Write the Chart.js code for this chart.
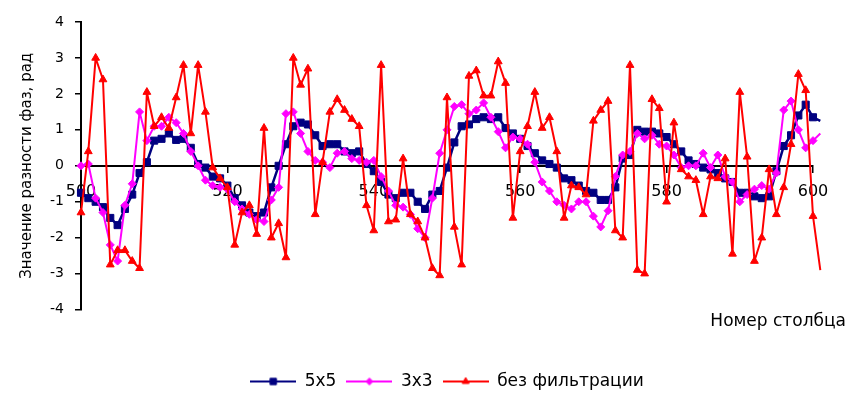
<!DOCTYPE html>
<html><head><meta charset="utf-8">
<script src="https://cdn.jsdelivr.net/npm/chart.js@4.4.1/dist/chart.umd.min.js"></script>
<style>html,body{margin:0;padding:0;background:#fff;}</style>
</head><body>
<canvas id="c" width="846" height="400"></canvas>
<script>
const columns = [500,501,502,503,504,505,506,507,508,509,510,511,512,513,514,515,516,517,518,519,
520,521,522,523,524,525,526,527,528,529,530,531,532,533,534,535,536,537,538,539,
540,541,542,543,544,545,546,547,548,549,550,551,552,553,554,555,556,557,558,559,
560,561,562,563,564,565,566,567,568,569,570,571,572,573,574,575,576,577,578,579,
580,581,582,583,584,585,586,587,588,589,590,591,592,593,594,595,596,597,598,599,600,601];

const filter5x5 = [-0.75,-0.9,-1.0,-1.15,-1.45,-1.65,-1.2,-0.8,-0.2,0.1,
0.7,0.75,0.9,0.72,0.75,0.5,0.05,-0.05,-0.3,-0.35,
-0.55,-0.9,-1.1,-1.3,-1.4,-1.3,-0.6,0.0,0.6,1.1,
1.2,1.15,0.85,0.55,0.6,0.6,0.4,0.35,0.4,0.05,
-0.15,-0.45,-0.8,-0.9,-0.75,-0.75,-1.0,-1.2,-0.8,-0.7,
-0.05,0.65,1.1,1.15,1.3,1.35,1.3,1.35,1.05,0.9,
0.75,0.55,0.35,0.15,0.05,-0.05,-0.35,-0.4,-0.55,-0.7,
-0.75,-0.95,-0.95,-0.6,0.2,0.3,1.0,0.95,0.95,0.9,
0.8,0.6,0.4,0.15,0.05,-0.05,-0.1,-0.2,-0.35,-0.45,
-0.75,-0.75,-0.85,-0.9,-0.85,-0.15,0.55,0.85,1.4,1.7,
1.35,1.25];

const filter3x3 = [0.0,0.05,-0.9,-1.3,-2.2,-2.65,-1.1,-0.5,1.5,0.7,
1.1,1.1,1.35,1.2,0.9,0.4,0.0,-0.4,-0.55,-0.6,
-0.65,-1.0,-1.2,-1.35,-1.5,-1.55,-0.95,-0.6,1.45,1.5,
0.9,0.4,0.15,0.1,-0.05,0.35,0.4,0.2,0.15,0.1,
0.15,-0.3,-0.7,-1.1,-1.15,-1.35,-1.75,-2.0,-0.9,0.35,
1.0,1.65,1.7,1.45,1.55,1.75,1.35,0.95,0.5,0.8,
0.75,0.6,0.1,-0.45,-0.7,-1.0,-1.1,-1.2,-1.0,-1.0,
-1.4,-1.7,-1.25,-0.3,0.3,0.4,0.9,0.75,0.85,0.6,
0.55,0.3,-0.05,0.0,0.0,0.35,-0.05,0.3,-0.3,-0.45,
-1.0,-0.8,-0.65,-0.55,-0.65,-0.2,1.55,1.8,1.0,0.5,
0.7,0.9];

const noFilter = [-1.3,0.4,3.0,2.4,-2.75,-2.35,-2.35,-2.65,-2.85,2.05,
1.1,1.35,1.05,1.9,2.8,0.9,2.8,1.5,-0.05,-0.35,
-0.6,-2.2,-1.3,-1.1,-1.9,1.05,-2.0,-1.6,-2.55,3.0,
2.25,2.7,-1.35,0.1,1.5,1.85,1.55,1.3,1.1,-1.1,
-1.8,2.8,-1.55,-1.5,0.2,-1.35,-1.55,-2.0,-2.85,-3.05,
1.9,-1.7,-2.75,2.5,2.65,1.95,1.95,2.9,2.3,-1.45,
0.4,1.1,2.05,1.05,1.35,0.4,-1.45,-0.55,-0.6,-0.8,
1.25,1.55,1.8,-1.8,-2.0,2.8,-2.9,-3.0,1.85,1.6,
-1.0,1.2,-0.1,-0.3,-0.4,-1.35,-0.3,-0.35,0.2,-2.45,
2.05,0.25,-2.65,-2.0,-0.1,-1.35,-0.6,0.6,2.55,2.1,
-1.4,-2.9];

const seriesNames = ['5x5', '3x3', 'без фильтрации'];
const xTickValues = [500, 520, 540, 560, 580, 600];
const yTickValues = [-4, -3, -2, -1, 0, 1, 2, 3, 4];
const yTitle = 'Значение разности фаз, рад';
const xTitle = 'Номер столбца';

const FONT = 'DejaVu Sans';
const colors = ['#000080', '#FF00FF', '#FF0000'];
const styles = ['rect', 'rectRot', 'triangle'];
const radii = [5, 4, 4.5];
const widths = [2.5, 2, 2];

function makeIcon(i) {
  const c = document.createElement('canvas');
  c.width = 46; c.height = 14;
  const g = c.getContext('2d');
  g.strokeStyle = colors[i]; g.lineWidth = 2;
  g.beginPath(); g.moveTo(0, 7); g.lineTo(46, 7); g.stroke();
  g.fillStyle = colors[i]; g.lineWidth = 1;
  Chart.helpers.drawPoint(g, {pointStyle: styles[i], radius: radii[i] - 0.5, rotation: 0, borderWidth: 1}, 23, 7);
  return c;
}
const icons = [0, 1, 2].map(makeIcon);

const seriesData = [filter5x5, filter3x3, noFilter];
const datasets = seriesData.map((d, i) => ({
  label: seriesNames[i],
  data: d,
  borderColor: colors[i],
  backgroundColor: colors[i],
  borderWidth: widths[i],
  borderJoinStyle: 'round',
  pointStyle: styles[i],
  pointRadius: radii[i],
  pointBorderWidth: 1,
  pointBackgroundColor: colors[i],
  pointBorderColor: colors[i],
  tension: 0,
  clip: false,
  order: 2 - i
}));

new Chart(document.getElementById('c'), {
  type: 'line',
  data: { labels: columns, datasets },
  options: {
    responsive: false,
    animation: false,
    devicePixelRatio: 1,
    events: [],
    layout: { padding: { left: 0, right: 0, top: 22, bottom: 0 } },
    scales: {
      y: {
        type: 'linear',
        position: 'left',
        min: -4, max: 4,
        afterFit: s => { s.width = 81; },
        afterBuildTicks: s => { s.ticks = yTickValues.map(v => ({ value: v })); },
        ticks: { font: { family: FONT, size: 14 }, color: '#000', padding: 11 },
        grid: { drawOnChartArea: false, drawTicks: true, tickLength: 6, color: '#000', lineWidth: 1.5 },
        border: { display: true, color: '#000', width: 2 },
        title: { display: true, text: yTitle, color: '#000', font: { family: FONT, size: 15 }, padding: { top: 18, bottom: 0 } }
      },
      x: {
        type: 'linear',
        position: { y: 0 },
        afterDataLimits: s => { s.min = 500; s.max = 600; },
        afterBuildTicks: s => { s.ticks = xTickValues.map(v => ({ value: v })); },
        ticks: { font: { family: FONT, size: 16 }, color: '#000', padding: 10, maxRotation: 0, autoSkip: false },
        grid: { drawOnChartArea: false, drawTicks: true, tickLength: 6, color: '#000', lineWidth: 1.5 },
        border: { display: true, color: '#000', width: 2 }
      },
      yRight: {
        type: 'linear',
        position: 'right',
        afterFit: s => { s.width = 33; },
        ticks: { display: false },
        grid: { display: false },
        border: { display: false }
      }
    },
    plugins: {
      tooltip: { enabled: false },
      title: {
        display: true, text: xTitle, position: 'bottom', align: 'end', weight: 500,
        color: '#000', font: { family: FONT, size: 17, weight: 'normal' },
        padding: { top: 2, bottom: 31 }
      },
      legend: {
        position: 'bottom', fullSize: false, weight: 1000,
        labels: {
          usePointStyle: true, pointStyleWidth: 46, boxHeight: 14,
          color: '#000', font: { family: FONT, size: 17 }, padding: 10,
          sort: (a, b) => a.datasetIndex - b.datasetIndex,
          generateLabels: chart => Chart.defaults.plugins.legend.labels.generateLabels(chart)
            .map(l => Object.assign(l, { pointStyle: icons[l.datasetIndex], fontColor: '#000' }))
        }
      }
    }
  }
});
</script>
</body></html>
